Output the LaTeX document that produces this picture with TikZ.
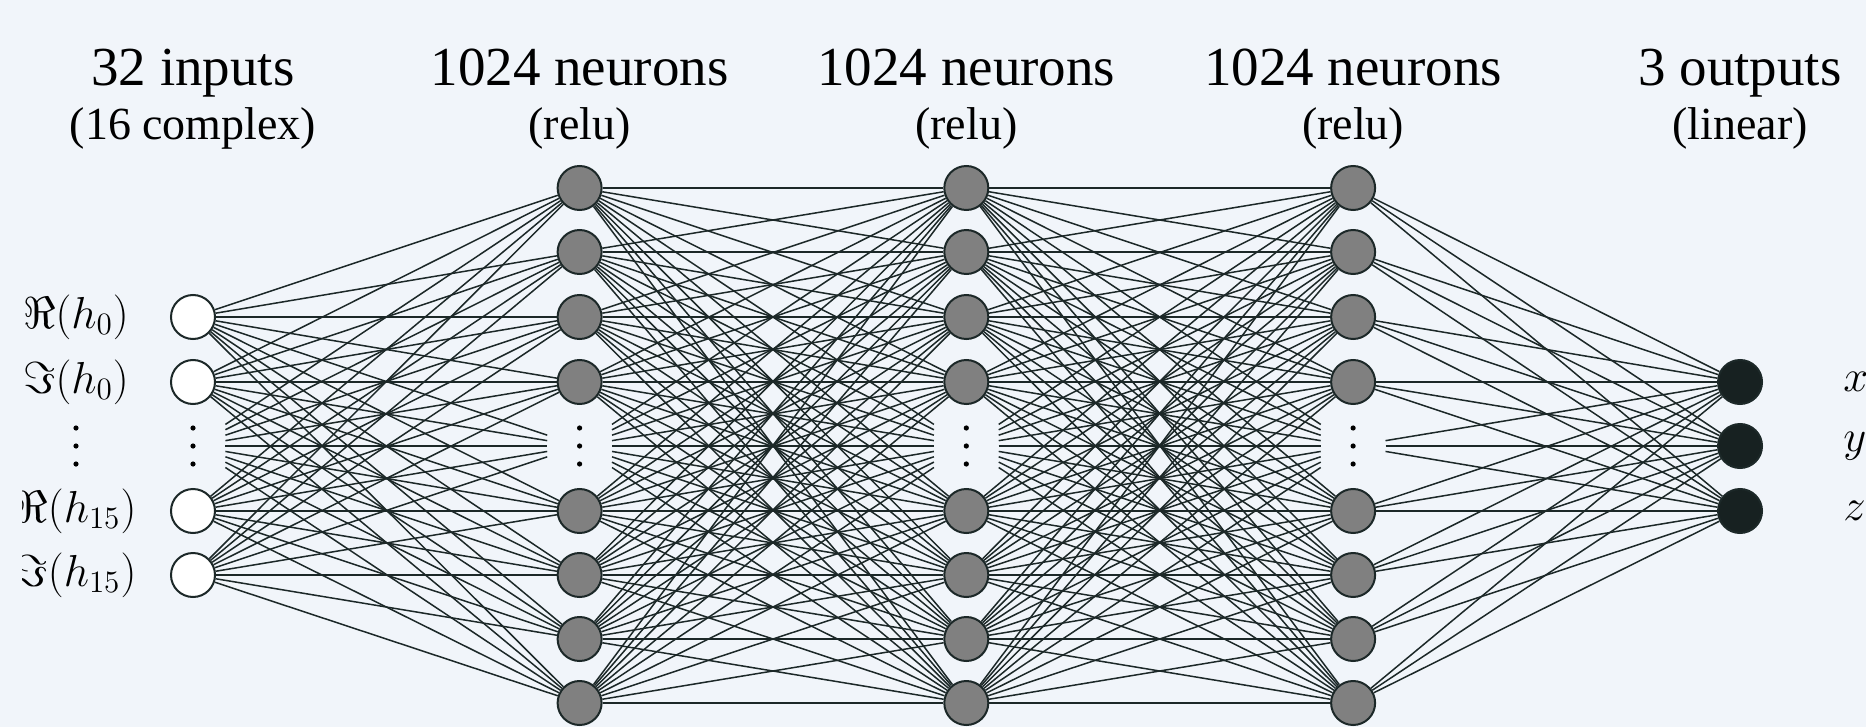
\documentclass[tikz,border=0pt]{standalone}
\usepackage{fontspec}
\newfontfamily\titlefont{Liberation Serif}
\definecolor{bg}{HTML}{F1F5FA}
\definecolor{ink}{HTML}{1C2828}
\definecolor{hid}{HTML}{808080}
\definecolor{outc}{HTML}{172121}
\pgfdeclarelayer{bgl}
\pgfdeclarelayer{edges}
\pgfsetlayers{bgl,edges,main}
\begin{document}
\begin{tikzpicture}[x=0.5pt,y=-0.5pt,
  neuron/.style={circle, draw=ink, line width=1pt, minimum size=22pt, inner sep=0pt},
  inneuron/.style={neuron, fill=white},
  hidneuron/.style={neuron, fill=hid},
  outneuron/.style={neuron, fill=outc},
  dotsbox/.style={rectangle, minimum width=32pt, minimum height=28pt, inner sep=0pt},
  edge/.style={draw=ink, line width=0.75pt},
  title/.style={font=\titlefont\fontsize{27.5}{30}\selectfont, anchor=base, inner sep=0pt},
  subtitle/.style={font=\titlefont\fontsize{23}{25}\selectfont, anchor=base, inner sep=0pt},
  lab/.style={font=\fontsize{20.74}{24}\selectfont, inner sep=0pt, scale=1.08},
  vdotspic/.pic={\fill[black] (0,-18) circle[radius=1.3pt] (0,0) circle[radius=1.3pt] (0,18) circle[radius=1.3pt];}
]
\begin{pgfonlayer}{bgl}
\fill[bg] (0,0) rectangle (1866,727);
\end{pgfonlayer}
\useasboundingbox (0,0) rectangle (1866,727);

% input layer
\foreach \y [count=\i] in {317,382,446,511,575} {
  \ifnum\i=3
    \node[dotsbox] (in-\i) at (193,\y) {};
    \pic at (193,\y) {vdotspic};
  \else
    \node[inneuron] (in-\i) at (193,\y) {};
  \fi
}
% hidden layers
\foreach \l/\x in {1/579.6,2/966.3,3/1353.1} {
  \foreach \y [count=\i] in {188,252,317,382,446,511,575,639,703} {
    \ifnum\i=5
      \node[dotsbox] (h\l-\i) at (\x,\y) {};
      \pic at (\x,\y) {vdotspic};
    \else
      \node[hidneuron] (h\l-\i) at (\x,\y) {};
    \fi
  }
}
% output layer
\foreach \y [count=\i] in {382,446,511} {
  \node[outneuron] (out-\i) at (1740,\y) {};
}

% edges
\begin{pgfonlayer}{edges}
\foreach \i in {1,...,5} \foreach \j in {1,...,9} \draw[edge] (in-\i) -- (h1-\j);
\foreach \a/\b in {1/2,2/3} \foreach \i in {1,...,9} \foreach \j in {1,...,9} \draw[edge] (h\a-\i) -- (h\b-\j);
\foreach \i in {1,...,9} \foreach \j in {1,...,3} \draw[edge] (h3-\i) -- (out-\j);
\end{pgfonlayer}

% input labels (clipped on the left as in the original)
\begin{scope}
\clip (22,0) rectangle (1866,727);
\node[lab, transform shape] (lab-1) at (76,317) {$\Re(h_0)$};
\node[lab, transform shape] (lab-2) at (76,382) {$\Im(h_0)$};
\coordinate (lab-3) at (76,446);
\pic at (lab-3) {vdotspic};
\node[lab, transform shape] (lab-4) at (76,511) {$\Re(h_{15})$};
\node[lab, transform shape] (lab-5) at (76,575) {$\Im(h_{15})$};
\end{scope}

% output labels
\node[lab, transform shape, anchor=west] (olab-1) at (1843,382) {$x$};
\node[lab, transform shape, anchor=west] (olab-2) at (1843,446) {$y$};
\node[lab, transform shape, anchor=west] (olab-3) at (1843,511) {$z$};

% titles
\node[title] (t1) at (193,86) {32 inputs};
\node[subtitle] (s1) at (193,140) {(16 complex)};
\node[title] (t2) at (579.6,86) {1024 neurons};
\node[subtitle] (s2) at (579.6,140) {(relu)};
\node[title] (t3) at (966.3,86) {1024 neurons};
\node[subtitle] (s3) at (966.3,140) {(relu)};
\node[title] (t4) at (1353.1,86) {1024 neurons};
\node[subtitle] (s4) at (1353.1,140) {(relu)};
\node[title] (t5) at (1740,86) {3 outputs};
\node[subtitle] (s5) at (1740,140) {(linear)};
\end{tikzpicture}
\end{document}
